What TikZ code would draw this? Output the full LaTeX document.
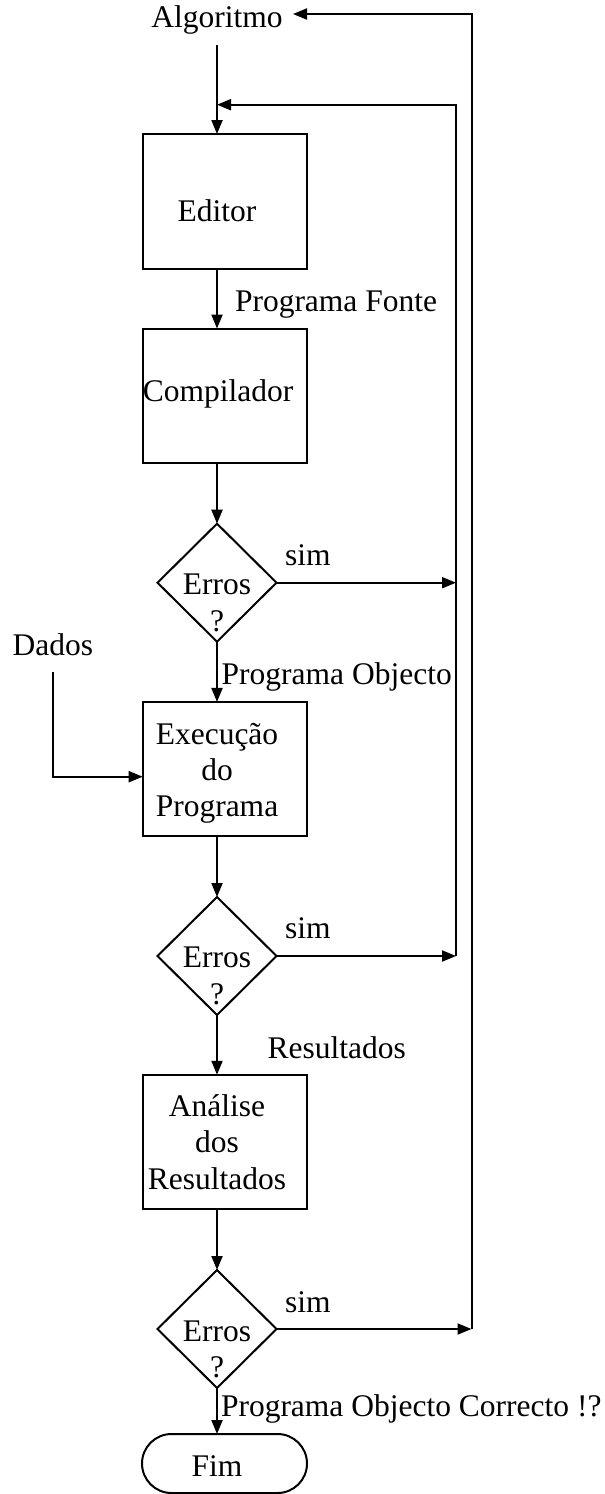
\documentclass[tikz,border=0pt]{standalone}
\usepackage{fontspec}
\setmainfont{Liberation Serif}
\usetikzlibrary{shapes.geometric,arrows.meta}
\begin{document}
\begin{tikzpicture}
  [x=1pt,y=-1pt,
   block/.style={rectangle,draw=black,line width=2pt,inner sep=0,
                 outer sep=0,minimum width=164pt,minimum height=134.5pt},
   decision/.style={diamond,draw=black,line width=2pt,inner sep=0,
                    outer sep=0,minimum width=119pt,minimum height=118pt},
   terminal/.style={rectangle,rounded corners=29.5pt,draw=black,line width=2pt,
                    inner sep=0,outer sep=0,minimum width=165pt,minimum height=59pt},
   txt/.style={inner sep=0,outer sep=0,anchor=base,align=center},
   flow/.style={line width=2pt,->},
   >={Triangle[length=14pt,width=11pt]},
   every node/.style={font=\fontsize{31.5}{36.3}\selectfont}]
  \useasboundingbox (0,0) rectangle (605,1494);
  \node[txt] (algo) at (217,27.3) {Algoritmo};
  \node[block] (edit) at (224.7,201.3) {};
  \node[txt] (editlbl) at (217,221.7) {Editor};
  \node[block] (comp) at (224.7,395.8) {};
  \node[txt] (complbl) at (218,401.7) {Compilador};
  \node[decision] (err1) at (217,582.7) {};
  \node[txt] (err1lbl) at (217,631) {Erros\\?};
  \node[block] (exec) at (224.7,769.2) {};
  \node[txt] (execlbl) at (217,816.7) {Execução\\do\\Programa};
  \node[decision] (err2) at (217,956) {};
  \node[txt] (err2lbl) at (217,1004) {Erros\\?};
  \node[block] (anal) at (224.7,1142) {};
  \node[txt] (anallbl) at (217,1189) {Análise\\dos\\Resultados};
  \node[decision] (err3) at (217,1329) {};
  \node[txt] (err3lbl) at (217,1377.3) {Erros\\?};
  \node[terminal] (fim) at (224.5,1463.5) {};
  \node[txt] (fimlbl) at (217,1476) {Fim};
  \node[txt,anchor=base west] (fonte) at (235,311.7) {Programa Fonte};
  \node[txt,anchor=base west] (objecto) at (221.7,684) {Programa Objecto};
  \node[txt,anchor=base west] (result) at (267.7,1058) {Resultados};
  \node[txt,anchor=base west] (correcto) at (221,1416) {Programa Objecto Correcto !?};
  \node[txt,anchor=base west] (dados) at (12.7,655) {Dados};
  \node[txt,anchor=base west] (sim1) at (285,565) {sim};
  \node[txt,anchor=base west] (sim2) at (285,938.3) {sim};
  \node[txt,anchor=base west] (sim3) at (285,1312) {sim};
  \coordinate (retin) at (456,956);
  \coordinate (retout) at (471.5,1329);
  \coordinate (topin) at (217,104.7);
  \coordinate (topout) at (293,14);
  \draw[flow] ([yshift=-11pt]algo.south) to (edit.north -| algo);
  \draw[flow] (edit.south -| algo) to (comp.north -| algo);
  \draw[flow] (comp.south -| algo) to (err1.north);
  \draw[flow] (err1.south) to (exec.north -| algo);
  \draw[flow] (exec.south -| algo) to (err2.north);
  \draw[flow] (err2.south) to (anal.north -| algo);
  \draw[flow] (anal.south -| algo) to (err3.north);
  \draw[flow] (err3.south) to (fim.north -| algo);
  \draw[flow] ([yshift=-16.7pt]dados.south) |- ([yshift=-7.5pt]exec.west);
  \draw[flow] (err1.east) to (err1.east -| retin);
  \draw[flow] (err2.east) to (retin);
  \draw[flow] (err3.east) to (retout);
  \draw[flow] (retin) |- (topin);
  \draw[flow] (retout) |- (topout);
\end{tikzpicture}
\end{document}
